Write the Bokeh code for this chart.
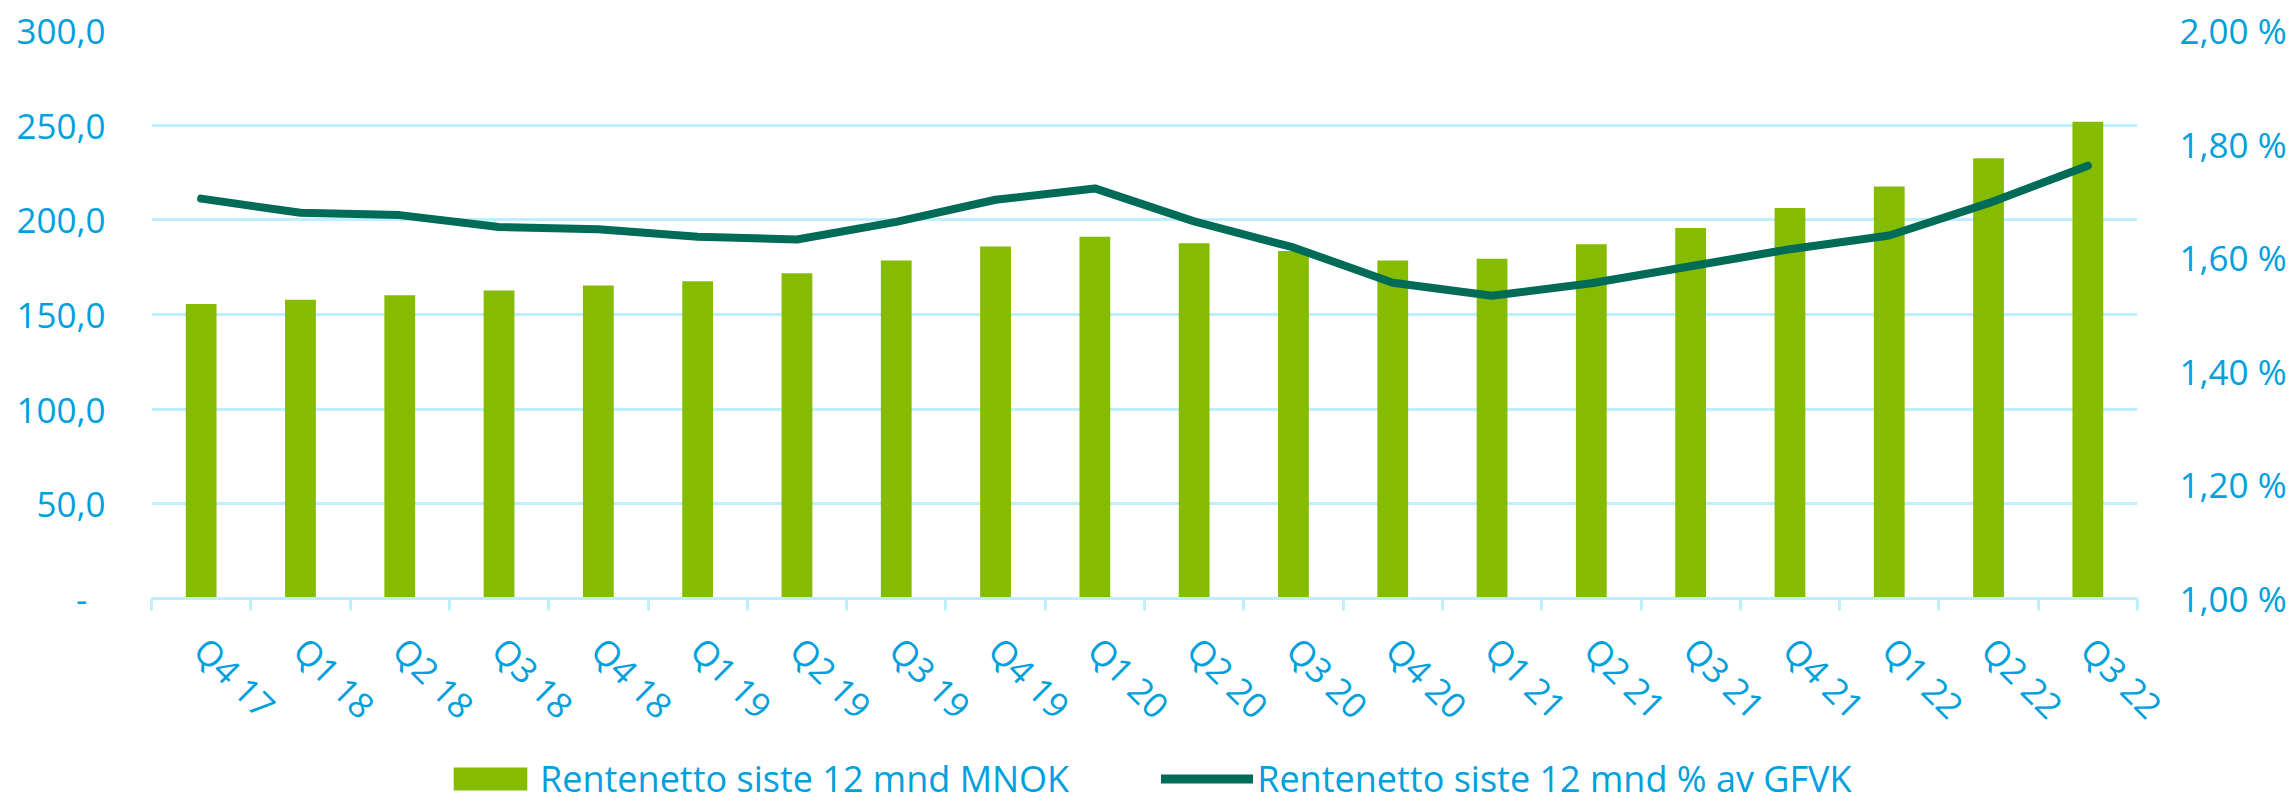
import math
from bokeh.plotting import figure
from bokeh.layouts import column
from bokeh.models import (Range1d, LinearAxis, FixedTicker, CustomJSTickFormatter,
                          Legend, LegendItem)
from bokeh.embed import file_html
from bokeh.resources import INLINE

categories = ["Q4 17", "Q1 18", "Q2 18", "Q3 18", "Q4 18", "Q1 19", "Q2 19", "Q3 19",
              "Q4 19", "Q1 20", "Q2 20", "Q3 20", "Q4 20", "Q1 21", "Q2 21", "Q3 21",
              "Q4 21", "Q1 22", "Q2 22", "Q3 22"]
rentenetto_mnok = [155.6, 157.8, 160.2, 162.7, 165.3, 167.5, 171.8, 178.5, 185.9, 191.0,
                   187.6, 183.6, 178.5, 179.5, 187.1, 195.7, 206.3, 217.6, 232.5, 251.8]
rentenetto_pct = [1.704, 1.679, 1.675, 1.654, 1.650, 1.637, 1.632, 1.663, 1.702, 1.722,
                  1.664, 1.618, 1.556, 1.533, 1.555, 1.585, 1.615, 1.639, 1.696, 1.762]
left_ticks = [0, 50, 100, 150, 200, 250, 300]
right_ticks = [1.0, 1.2, 1.4, 1.6, 1.8, 2.0]
series_names = ["Rentenetto siste 12 mnd MNOK", "Rentenetto siste 12 mnd % av GFVK"]

BAR = "#85BC00"
LINE = "#006B56"
TEXT = "#00A0DC"
GRID = "#BFEEFF"
FONT = "Open Sans"
FS = "35px"

W = 2289
H_MAIN = 753
H_LEG = 50
FRAME_LEFT = 151

xs = list(range(len(categories)))

p = figure(width=W, height=H_MAIN, output_backend="svg", toolbar_location=None,
           x_range=Range1d(-0.5, len(categories) - 0.5), y_range=Range1d(0, 300),
           min_border_left=FRAME_LEFT, min_border_right=149, min_border_top=30,
           min_border_bottom=H_MAIN - 598, y_axis_location=None)
p.outline_line_color = None
p.background_fill_color = "white"
p.border_fill_color = "white"

p.extra_y_ranges = {"pct": Range1d(1.0, 2.0)}

# grid
p.xgrid.visible = False
p.ygrid.ticker = FixedTicker(ticks=left_ticks)
p.ygrid.grid_line_color = GRID
p.ygrid.grid_line_width = 3

# left axis
ly = LinearAxis(ticker=FixedTicker(ticks=left_ticks))
ly.formatter = CustomJSTickFormatter(code="""
    if (tick == 0) { return '-\\u00a0\\u00a0'; }
    return tick.toFixed(1).replace('.', ',');
""")
ly.axis_line_color = None
ly.major_tick_line_color = None
ly.minor_tick_line_color = None
ly.major_label_standoff = 40
ly.major_label_text_color = TEXT
ly.major_label_text_font = FONT
ly.major_label_text_font_size = FS
p.add_layout(ly, "left")

# right axis
ry = LinearAxis(y_range_name="pct", ticker=FixedTicker(ticks=right_ticks))
ry.formatter = CustomJSTickFormatter(code="""
    return tick.toFixed(2).replace('.', ',') + ' %';
""")
ry.axis_line_color = None
ry.major_tick_line_color = None
ry.minor_tick_line_color = None
ry.major_label_standoff = 36
ry.major_label_text_color = TEXT
ry.major_label_text_font = FONT
ry.major_label_text_font_size = FS
p.add_layout(ry, "right")

# x axis
xa = p.xaxis[0]
xa.ticker = FixedTicker(ticks=xs, minor_ticks=[i - 0.5 for i in range(len(categories) + 1)])
xa.major_label_overrides = {i: c for i, c in enumerate(categories)}
xa.major_label_orientation = -math.pi / 4
xa.major_tick_out = 0
xa.major_tick_in = 0
xa.major_tick_line_color = None
xa.minor_tick_out = 12
xa.minor_tick_in = 0
xa.minor_tick_line_color = GRID
xa.minor_tick_line_width = 3
xa.axis_line_color = GRID
xa.axis_line_width = 3
xa.major_label_standoff = 33
xa.major_label_text_color = TEXT
xa.major_label_text_font = FONT
xa.major_label_text_font_size = FS

p.vbar(x=xs, top=rentenetto_mnok, width=0.31, bottom=0,
       fill_color=BAR, line_color=None)
p.line(x=xs, y=rentenetto_pct, y_range_name="pct", line_color=LINE,
       line_width=8, line_join="round", line_cap="round")

# legend strip (its frame is aligned with the main plot's frame by the column layout)
lf = figure(width=W, height=H_LEG, output_backend="svg", toolbar_location=None,
            x_range=Range1d(0, 1), y_range=Range1d(0, 1),
            x_axis_location=None, y_axis_location=None,
            min_border=0, min_border_left=0, min_border_right=0,
            min_border_top=0, min_border_bottom=0)
lf.outline_line_color = None
lf.xgrid.visible = False
lf.ygrid.visible = False
lf.background_fill_color = "white"
lf.border_fill_color = "white"
# legend-only renderers placed outside the visible range
dummy_bar = lf.vbar(x=[5], top=[5], bottom=[4], width=0.3, fill_color=BAR, line_color=None)
dummy_line = lf.line(x=[5, 6], y=[5, 5], line_color=LINE, line_width=9, line_cap="round")

legend = Legend(items=[LegendItem(label=series_names[0], renderers=[dummy_bar]),
                       LegendItem(label=series_names[1], renderers=[dummy_line])],
                orientation="horizontal", location=(444 - FRAME_LEFT, 0),
                glyph_width=92, glyph_height=29, label_standoff=4, spacing=92,
                padding=0, margin=0, border_line_color=None,
                background_fill_alpha=0,
                label_text_color=TEXT, label_text_font=FONT,
                label_text_font_size="36px")
lf.add_layout(legend, "center")

layout = column(p, lf, spacing=0)
open("out.html", "w").write(file_html(layout, INLINE))
